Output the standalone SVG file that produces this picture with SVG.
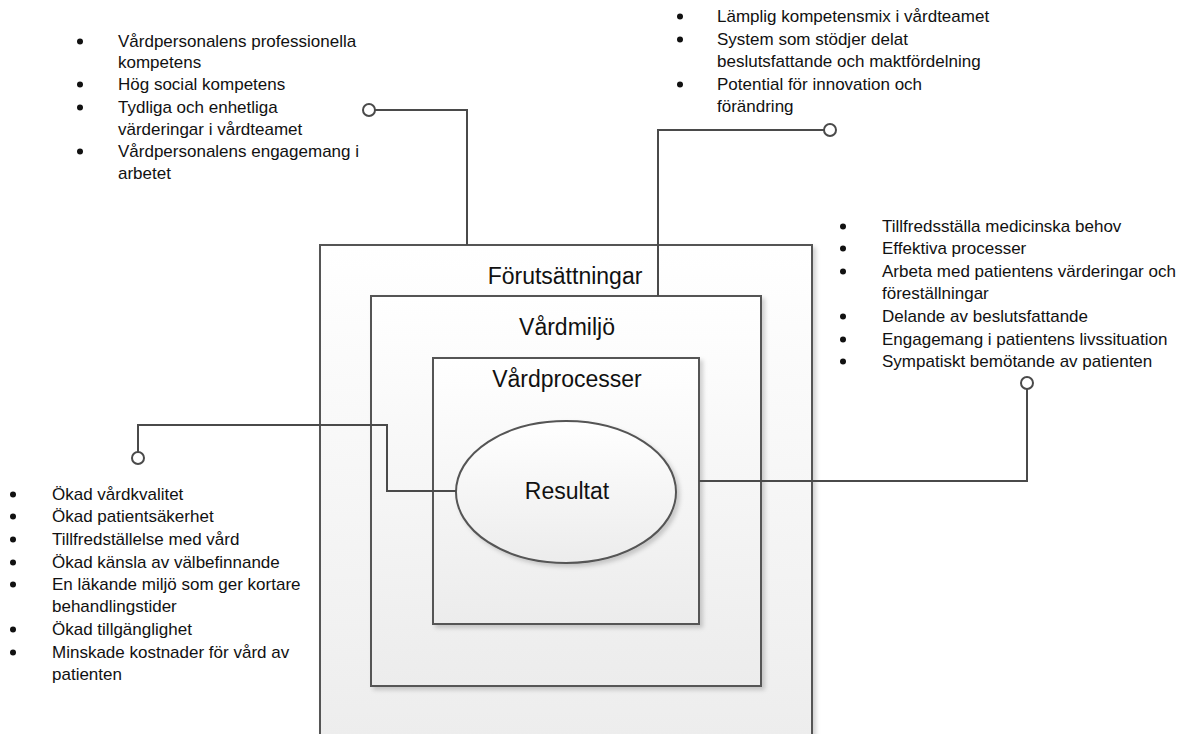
<svg xmlns="http://www.w3.org/2000/svg" width="1185" height="734" viewBox="0 0 1185 734">
<style>
  .box { stroke:#555555; stroke-width:2; fill:url(#grad); filter:url(#shadow); }
  .title { font-family:"Liberation Sans", Arial, sans-serif; font-size:23px; fill:#111111; text-anchor:middle; }
  .lst { font-family:"Liberation Sans", Arial, sans-serif; font-size:17px; fill:#111111; }
  .bul { fill:#111111; }
  .conn { stroke:#4a4a4a; stroke-width:2; fill:none; }
  .end { stroke:#4a4a4a; stroke-width:2; fill:#ffffff; }
</style>
<defs>
  <linearGradient id="grad" x1="0" y1="0" x2="0" y2="1">
    <stop offset="0" stop-color="#ffffff"/>
    <stop offset="1" stop-color="#ececec"/>
  </linearGradient>
  <filter id="shadow" x="-5%" y="-5%" width="115%" height="115%">
    <feDropShadow dx="3" dy="3" stdDeviation="2" flood-color="#000000" flood-opacity="0.18"/>
  </filter>
</defs>
<rect width="1185" height="734" fill="#ffffff"/>

<g id="node-forutsattningar">
  <rect class="box" x="320" y="245" width="492" height="520"/>
  <text class="title" x="565" y="284">Förutsättningar</text>
</g>
<g id="node-vardmiljo">
  <rect class="box" x="371" y="296" width="390" height="390"/>
  <text class="title" x="567" y="335">Vårdmiljö</text>
</g>
<g id="node-vardprocesser">
  <rect class="box" x="433" y="358" width="266" height="266"/>
  <text class="title" x="567" y="387">Vårdprocesser</text>
</g>
<g id="node-resultat">
  <ellipse class="box" cx="566" cy="492" rx="110" ry="71"/>
  <text class="title" x="567" y="499">Resultat</text>
</g>

<g id="connectors">
  <polyline class="conn" points="375,110 467,110 467,245"/>
  <circle class="end" cx="369" cy="110" r="6"/>
  <polyline class="conn" points="824,130 658,130 658,296"/>
  <circle class="end" cx="830" cy="130" r="6"/>
  <polyline class="conn" points="1027,389 1027,481 699,481"/>
  <circle class="end" cx="1027" cy="383" r="6"/>
  <polyline class="conn" points="138,452 138,425 387,425 387,491 456,491"/>
  <circle class="end" cx="138" cy="458" r="6"/>
</g>

<g id="node-list-topleft">
  <circle class="bul" cx="80" cy="41.5" r="3"/>
  <text class="lst" x="118" y="47">Vårdpersonalens professionella</text>
  <text class="lst" x="118" y="68">kompetens</text>
  <circle class="bul" cx="80" cy="84.5" r="3"/>
  <text class="lst" x="118" y="90">Hög social kompetens</text>
  <circle class="bul" cx="80" cy="107.5" r="3"/>
  <text class="lst" x="118" y="113">Tydliga och enhetliga</text>
  <text class="lst" x="118" y="135">värderingar i vårdteamet</text>
  <circle class="bul" cx="80" cy="151.5" r="3"/>
  <text class="lst" x="118" y="157">Vårdpersonalens engagemang i</text>
  <text class="lst" x="118" y="179">arbetet</text>
</g>

<g id="node-list-topright">
  <circle class="bul" cx="680" cy="16.5" r="3"/>
  <text class="lst" x="717" y="22">Lämplig kompetensmix i vårdteamet</text>
  <circle class="bul" cx="680" cy="39.5" r="3"/>
  <text class="lst" x="717" y="45">System som stödjer delat</text>
  <text class="lst" x="717" y="67">beslutsfattande och maktfördelning</text>
  <circle class="bul" cx="680" cy="84.5" r="3"/>
  <text class="lst" x="717" y="90">Potential för innovation och</text>
  <text class="lst" x="717" y="112">förändring</text>
</g>

<g id="node-list-right">
  <circle class="bul" cx="843" cy="226.5" r="3"/>
  <text class="lst" x="882" y="232">Tillfredsställa medicinska behov</text>
  <circle class="bul" cx="843" cy="248.5" r="3"/>
  <text class="lst" x="882" y="254">Effektiva processer</text>
  <circle class="bul" cx="843" cy="271.5" r="3"/>
  <text class="lst" x="882" y="277">Arbeta med patientens värderingar och</text>
  <text class="lst" x="882" y="299">föreställningar</text>
  <circle class="bul" cx="843" cy="316.5" r="3"/>
  <text class="lst" x="882" y="322">Delande av beslutsfattande</text>
  <circle class="bul" cx="843" cy="339.5" r="3"/>
  <text class="lst" x="882" y="345">Engagemang i patientens livssituation</text>
  <circle class="bul" cx="843" cy="361.5" r="3"/>
  <text class="lst" x="882" y="367">Sympatiskt bemötande av patienten</text>
</g>

<g id="node-list-bottomleft">
  <circle class="bul" cx="13" cy="494.5" r="3"/>
  <text class="lst" x="52" y="500">Ökad vårdkvalitet</text>
  <circle class="bul" cx="13" cy="516.5" r="3"/>
  <text class="lst" x="52" y="522">Ökad patientsäkerhet</text>
  <circle class="bul" cx="13" cy="539.5" r="3"/>
  <text class="lst" x="52" y="545">Tillfredställelse med vård</text>
  <circle class="bul" cx="13" cy="562.5" r="3"/>
  <text class="lst" x="52" y="568">Ökad känsla av välbefinnande</text>
  <circle class="bul" cx="13" cy="584.5" r="3"/>
  <text class="lst" x="52" y="590">En läkande miljö som ger kortare</text>
  <text class="lst" x="52" y="612">behandlingstider</text>
  <circle class="bul" cx="13" cy="629.5" r="3"/>
  <text class="lst" x="52" y="635">Ökad tillgänglighet</text>
  <circle class="bul" cx="13" cy="652.5" r="3"/>
  <text class="lst" x="52" y="658">Minskade kostnader för vård av</text>
  <text class="lst" x="52" y="680">patienten</text>
</g>
</svg>
